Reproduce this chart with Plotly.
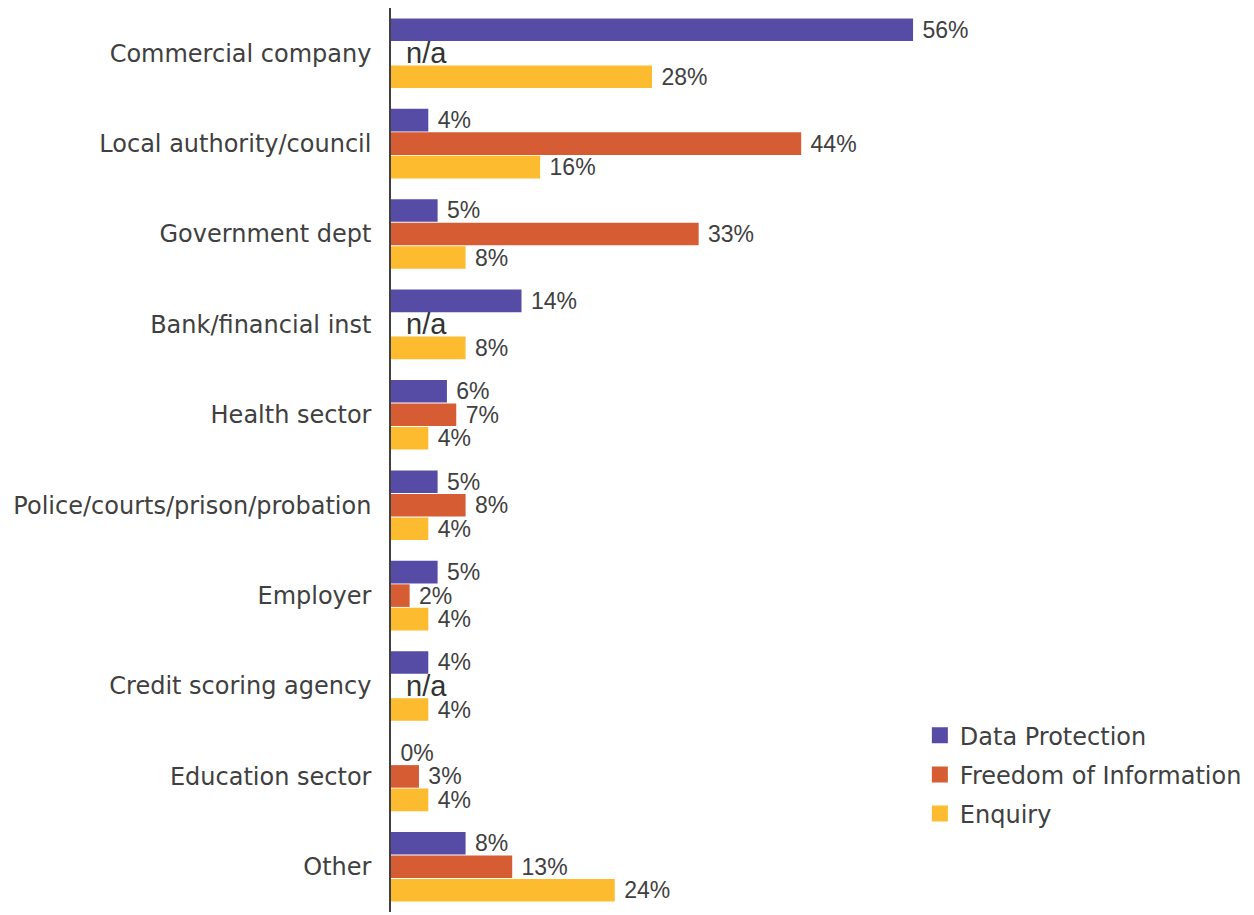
import plotly.graph_objects as go

categories = [
    "Commercial company",
    "Local authority/council",
    "Government dept",
    "Bank/financial inst",
    "Health sector",
    "Police/courts/prison/probation",
    "Employer",
    "Credit scoring agency",
    "Education sector",
    "Other",
]

data_protection = [56, 4, 5, 14, 6, 5, 5, 4, 0, 8]
freedom_of_info = [None, 44, 33, None, 7, 8, 2, None, 3, 13]
enquiry = [28, 16, 8, 8, 4, 4, 4, 4, 4, 24]

series = [
    ("Data Protection", data_protection, "#564CA6"),
    ("Freedom of Information", freedom_of_info, "#D65C34"),
    ("Enquiry", enquiry, "#FDBB2F"),
]

label_font = dict(family="DejaVu Sans", size=24, color="#404040")
value_font = dict(family="Liberation Sans, Arial", size=23, color="#404040")

fig = go.Figure()
for name, values, color in series:
    fig.add_trace(go.Bar(
        name=name,
        y=categories,
        x=values,
        orientation="h",
        marker=dict(color=color, line=dict(width=0)),
        text=[f" {v}%" if v is not None else "" for v in values],
        textposition="outside",
        textfont=value_font,
        constraintext="none",
        cliponaxis=False,
        showlegend=False,
    ))

# legend entries with larger square swatches
for i, (name, values, color) in enumerate(series):
    fig.add_trace(go.Scatter(
        name=name, x=[None], y=[None], mode="markers",
        marker=dict(symbol="square", size=16, color=color),
        legendgroup=f"g{i}", showlegend=True,
    ))

# categories with no Freedom of Information value
for cat, v in zip(categories, freedom_of_info):
    if v is None:
        fig.add_annotation(
            x=1.4, y=cat, xref="x", yref="y",
            text="n/a", showarrow=False, xanchor="left", yanchor="middle",
            font=dict(family="Liberation Sans, Arial", size=29, color="#333333"),
        )

fig.update_layout(
    width=1254, height=915,
    margin=dict(l=391, r=10, t=8, b=3),
    plot_bgcolor="white", paper_bgcolor="white",
    barmode="group",
    bargap=0.22,
    bargroupgap=0.04,
    showlegend=True,
    legend=dict(
        x=0.62, y=0.22, xanchor="left", yanchor="top",
        font=label_font, traceorder="grouped",
        tracegroupgap=5, itemwidth=30,
        bgcolor="rgba(0,0,0,0)",
    ),
    xaxis=dict(range=[0, 91.5], visible=False, showgrid=False, zeroline=False),
    yaxis=dict(
        autorange="reversed",
        showline=True, linecolor="#404040", linewidth=1.5,
        showgrid=False, zeroline=False, ticks="",
        tickfont=label_font,
        ticklabelstandoff=13,
    ),
)

fig.write_html("out.html")
